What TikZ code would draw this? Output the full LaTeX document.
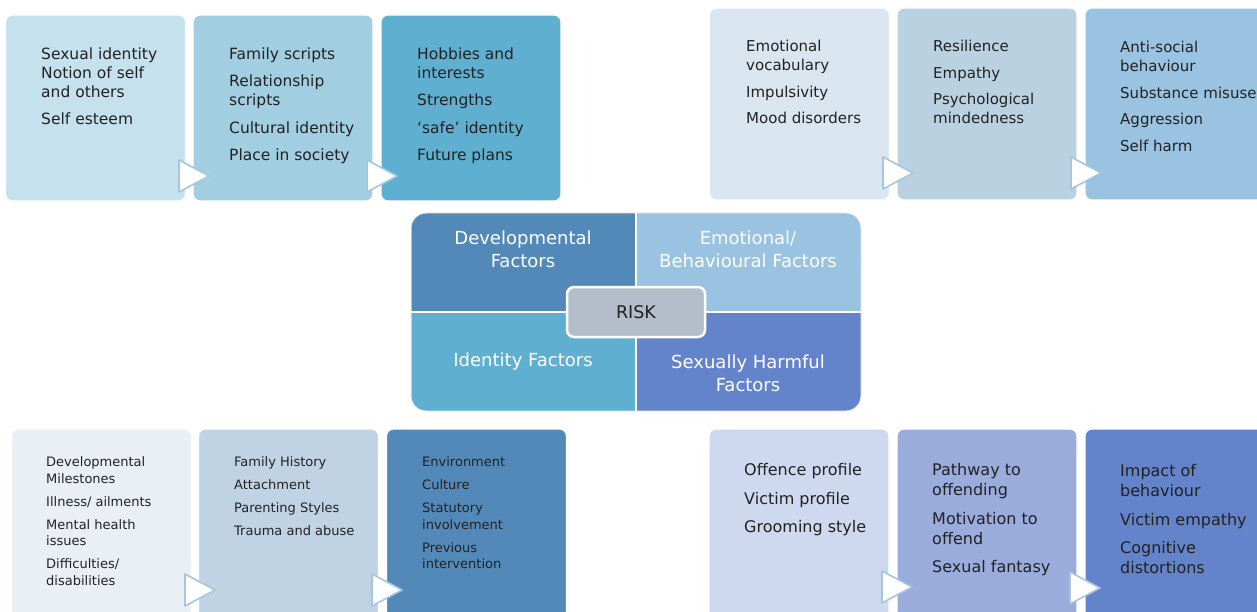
\documentclass[tikz,border=0pt]{standalone}
\usepackage{fontspec}
\setmainfont{DejaVu Sans}
\usepackage{tikz}
\usetikzlibrary{positioning}

\definecolor{tlA}{HTML}{C4E1ED}
\definecolor{tlB}{HTML}{A1CEE0}
\definecolor{tlC}{HTML}{5EAFD0}
\definecolor{trA}{HTML}{D9E5EF}
\definecolor{trB}{HTML}{BAD1E1}
\definecolor{trC}{HTML}{99C3E1}
\definecolor{blA}{HTML}{EAEFF6}
\definecolor{blB}{HTML}{C0D3E5}
\definecolor{blC}{HTML}{5389B8}
\definecolor{brA}{HTML}{CED8EF}
\definecolor{brB}{HTML}{99ACDC}
\definecolor{brC}{HTML}{6384CA}
\definecolor{riskgray}{HTML}{B4BECB}
\definecolor{triblue}{HTML}{A6C6DF}
\definecolor{itemtext}{HTML}{222222}

\begin{document}
\begin{tikzpicture}[x = 1pt, y = -1pt,
  box/.style = {rounded corners = 7pt, draw = white, line width = 1.2pt, minimum width = 180pt, inner sep = 0},
  items/.style = {anchor = north west, align = left, inner sep = 0, text = itemtext},
  tri/.style = {fill = white, draw = triblue, line width = 1.6pt, line join = round},
  quad/.style = {text = white, align = center, font = \fontsize{18}{23}\selectfont}]
  \useasboundingbox (0, 0) rectangle (1257, 612);
  \clip (0, 0) rectangle (1257, 612);
  \fill[white] (0, 0) rectangle (1257, 612);

  % top left
  \node[box, fill = tlA, minimum height = 186pt] (tlA) at (95.5, 108) {};
  \node[box, fill = tlB, minimum height = 186pt] (tlB) at (283, 108) {};
  \node[box, fill = tlC, minimum height = 186pt] (tlC) at (471, 108) {};
  \begin{scope}[font = \fontsize{15.5}{19}\selectfont]
    \node[items] (tlAt) at (41, 47.5) {Sexual identity\\Notion of self\\and others\\[8.5pt]Self esteem};
    \node[items] (tlBt) at (229, 47.5) {Family scripts\\[8.5pt]Relationship\\scripts\\[8.5pt]Cultural identity\\[8.5pt]Place in society};
    \node[items] (tlCt) at (417, 47.5) {Hobbies and\\interests\\[8.5pt]Strengths\\[8.5pt]‘safe’ identity\\[8.5pt]Future plans};
  \end{scope}

  % top right
  \node[box, fill = trA, minimum height = 192pt] (trA) at (799.5, 104) {};
  \node[box, fill = trB, minimum height = 192pt] (trB) at (987, 104) {};
  \node[box, fill = trC, minimum height = 192pt] (trC) at (1175, 104) {};
  \begin{scope}[font = \fontsize{15}{19}\selectfont]
    \node[items] (trAt) at (746, 40) {Emotional\\vocabulary\\[7.5pt]Impulsivity\\[7.5pt]Mood disorders};
    \node[items] (trBt) at (933, 40) {Resilience\\[7.5pt]Empathy\\[7.5pt]Psychological\\mindedness};
    \node[items] (trCt) at (1120, 41) {Anti-social\\behaviour\\[7.5pt]Substance misuse\\[7.5pt]Aggression\\[7.5pt]Self harm};
  \end{scope}

  % bottom left
  \node[box, fill = blA, minimum height = 196pt] (blA) at (101.5, 527) {};
  \node[box, fill = blB, minimum height = 196pt] (blB) at (288.5, 527) {};
  \node[box, fill = blC, minimum height = 196pt] (blC) at (476.5, 527) {};
  \begin{scope}[font = \fontsize{13}{16.5}\selectfont]
    \node[items] (blAt) at (46, 456.5) {Developmental\\Milestones\\[6.5pt]Illness/ ailments\\[6.5pt]Mental health\\issues\\[6.5pt]Difficulties/\\disabilities};
    \node[items] (blBt) at (234, 456.5) {Family History\\[6.5pt]Attachment\\[6.5pt]Parenting Styles\\[6.5pt]Trauma and abuse};
    \node[items] (blCt) at (422, 456.5) {Environment\\[6.5pt]Culture\\[6.5pt]Statutory\\involvement\\[6.5pt]Previous\\intervention};
  \end{scope}

  % bottom right
  \node[box, fill = brA, minimum height = 196pt] (brA) at (799, 527) {};
  \node[box, fill = brB, minimum height = 196pt] (brB) at (987, 527) {};
  \node[box, fill = brC, minimum height = 196pt] (brC) at (1175, 527) {};
  \begin{scope}[font = \fontsize{16}{20}\selectfont]
    \node[items] (brAt) at (744, 463.5) {Offence profile\\[8.5pt]Victim profile\\[8.5pt]Grooming style};
    \node[items] (brBt) at (932, 463.5) {Pathway to\\offending\\[8.5pt]Motivation to\\offend\\[8.5pt]Sexual fantasy};
    \node[items] (brCt) at (1120, 464.5) {Impact of\\behaviour\\[8.5pt]Victim empathy\\[8.5pt]Cognitive\\distortions};
  \end{scope}

  % step arrows
  \foreach \a/\b in {179/176, 367/176, 883/173, 1071/173, 185/590, 372/590, 882/587, 1070/588}
    \draw[tri] (\a, \b - 16) -- (\a + 30, \b) -- (\a, \b + 16) -- cycle;

  % centre
  \begin{scope}
    \clip[rounded corners = 15pt] (411, 213) rectangle (861, 411);
    \fill[blC] (411, 213) rectangle (636, 312);
    \fill[trC] (636, 213) rectangle (861, 312);
    \fill[tlC] (411, 312) rectangle (636, 411);
    \fill[brC] (636, 312) rectangle (861, 411);
    \draw[white, line width = 2pt] (636, 213) -- (636, 411) (411, 312) -- (861, 312);
  \end{scope}
  \draw[white!85!gray, line width = 1pt, rounded corners = 15pt] (411, 213) rectangle (861, 411);
  \node[quad] (dev) at (523, 249) {Developmental\\Factors};
  \node[quad] (emo) at (748, 249) {Emotional/\\Behavioural Factors};
  \node[quad] (ide) at (523, 362) {Identity Factors};
  \node[quad] (sex) at (748, 373) {Sexually Harmful\\Factors};
  \node[fill = riskgray, draw = white, line width = 2.5pt, rounded corners = 7pt, minimum width = 138pt, minimum height = 50pt, text = itemtext, font = \fontsize{17.5}{20}\selectfont] (risk) at (636, 312) {RISK};
\end{tikzpicture}
\end{document}
